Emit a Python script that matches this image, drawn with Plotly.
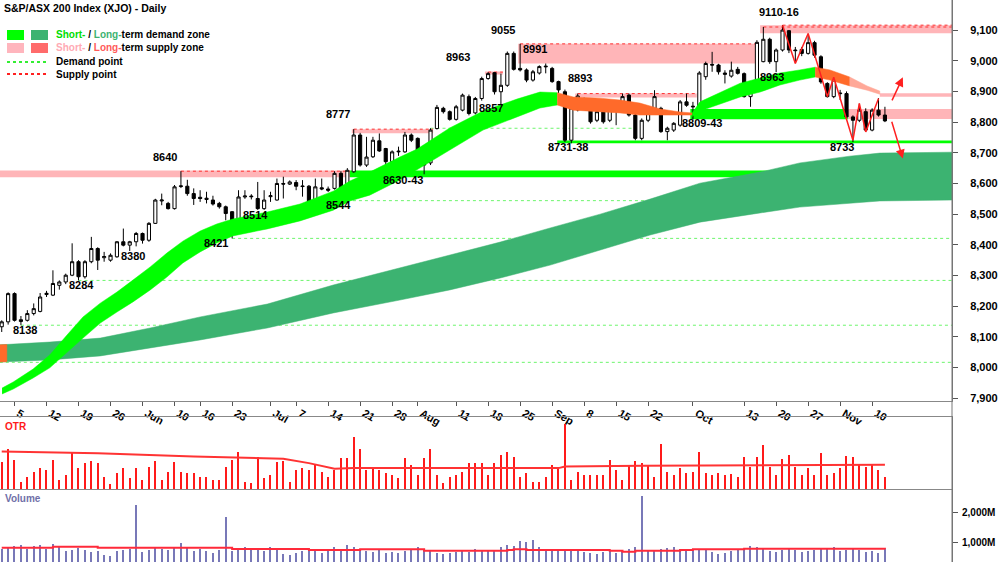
import plotly.graph_objects as go

# ---------------- data ----------------
# trading-day index 0 = 1 May 2025 ... 138 = 12 Nov 2025
opens = [8133, 8149, 8241, 8150, 8154, 8176, 8183, 8238, 8236, 8268,
         8279, 8301, 8345, 8296, 8345, 8388, 8358, 8350, 8361, 8410,
         8399, 8410, 8437, 8415, 8470, 8543, 8535, 8518, 8590, 8591,
         8567, 8555, 8552, 8546, 8535, 8524, 8508, 8476, 8556, 8559,
         8551, 8518, 8557, 8546, 8600, 8598, 8603, 8592, 8591, 8540,
         8586, 8582, 8584, 8633, 8565, 8638, 8758, 8660, 8687, 8739,
         8714, 8671, 8703, 8703, 8758, 8747, 8665, 8667, 8779, 8845,
         8834, 8809, 8839, 8883, 8830, 8877, 8942, 8961, 8899, 8920,
         9024, 8975, 8970, 8937, 8960, 8980, 8975, 8932, 8899, 8741,
         8840, 8872, 8850, 8806, 8834, 8806, 8861, 8855, 8888, 8823,
         8747, 8806, 8845, 8845, 8769, 8774, 8790, 8866, 8852, 8850,
         8948, 8988, 8986, 8960, 8950, 8972, 8958, 8883, 8904, 8997,
         9070, 8997, 9035, 9098, 9035, 9037, 9024, 9059, 9013, 8926,
         8883, 8895, 8893, 8817, 8806, 8834, 8774, 8839, 8823]
highs = [8154, 8245, 8245, 8168, 8187, 8209, 8243, 8250, 8317, 8284,
         8306, 8405, 8350, 8350, 8426, 8392, 8377, 8372, 8412, 8453,
         8413, 8442, 8440, 8474, 8550, 8567, 8540, 8595, 8640, 8612,
         8584, 8578, 8573, 8560, 8540, 8528, 8510, 8578, 8578, 8565,
         8605, 8578, 8573, 8616, 8622, 8610, 8611, 8611, 8595, 8616,
         8616, 8590, 8640, 8640, 8650, 8777, 8765, 8752, 8752, 8763,
         8716, 8708, 8720, 8768, 8763, 8750, 8668, 8780, 8856, 8850,
         8838, 8856, 8893, 8890, 8882, 8948, 8963, 8963, 8958, 9030,
         9030, 9055, 8975, 8970, 8985, 8991, 8980, 8935, 8906, 8850,
         8893, 8880, 8855, 8840, 8840, 8872, 8872, 8893, 8893, 8828,
         8812, 8850, 8904, 8850, 8785, 8800, 8872, 8893, 8866, 8966,
         8997, 9029, 8990, 8969, 8997, 8980, 8962, 8910, 9067, 9110,
         9075, 9040, 9116, 9100, 9045, 9045, 9088, 9065, 9018, 8930,
         8947, 8905, 8900, 8822, 8860, 8845, 8845, 8878, 8850]
lows = [8116, 8140, 8150, 8138, 8150, 8170, 8180, 8230, 8233, 8254,
        8272, 8298, 8284, 8290, 8340, 8318, 8345, 8345, 8358, 8395,
        8380, 8395, 8404, 8410, 8468, 8529, 8515, 8515, 8585, 8560,
        8530, 8540, 8535, 8528, 8518, 8480, 8421, 8470, 8550, 8548,
        8514, 8514, 8540, 8544, 8551, 8595, 8578, 8557, 8535, 8535,
        8578, 8572, 8580, 8544, 8560, 8635, 8655, 8654, 8683, 8703,
        8643, 8665, 8690, 8700, 8735, 8655, 8630, 8660, 8776, 8828,
        8805, 8805, 8835, 8822, 8825, 8870, 8938, 8890, 8857, 8915,
        8968, 8965, 8930, 8932, 8955, 8959, 8928, 8895, 8735, 8731,
        8835, 8845, 8795, 8800, 8795, 8800, 8790, 8850, 8818, 8741,
        8741, 8800, 8840, 8765, 8741, 8768, 8785, 8850, 8809, 8843,
        8938, 8964, 8955, 8926, 8945, 8955, 8880, 8850, 8900, 8995,
        8990, 8963, 9030, 9025, 8992, 9015, 9020, 9010, 8925, 8880,
        8878, 8872, 8810, 8735, 8800, 8768, 8770, 8818, 8800]
closes = [8149, 8241, 8154, 8156, 8176, 8192, 8230, 8242, 8274, 8279,
          8301, 8345, 8296, 8345, 8388, 8350, 8362, 8366, 8410, 8399,
          8410, 8437, 8415, 8470, 8546, 8546, 8518, 8589, 8592, 8567,
          8551, 8551, 8548, 8533, 8524, 8502, 8475, 8556, 8559, 8557,
          8518, 8546, 8560, 8600, 8598, 8605, 8591, 8590, 8540, 8589,
          8582, 8578, 8633, 8562, 8643, 8758, 8660, 8686, 8741, 8706,
          8671, 8703, 8705, 8758, 8741, 8663, 8660, 8774, 8848, 8834,
          8809, 8850, 8888, 8828, 8877, 8942, 8958, 8899, 8920, 9024,
          8972, 8970, 8937, 8964, 8981, 8982, 8932, 8905, 8741, 8846,
          8885, 8850, 8801, 8834, 8801, 8866, 8850, 8883, 8823, 8747,
          8806, 8845, 8883, 8769, 8780, 8796, 8866, 8855, 8850, 8960,
          8991, 8986, 8964, 8956, 8969, 8959, 8883, 8904, 9060, 9070,
          8997, 9035, 9100, 9035, 9033, 9024, 9059, 9018, 8931, 8883,
          8937, 8893, 8817, 8806, 8839, 8774, 8839, 8823, 8804]

# OTR (arbitrary units) and volume (millions)
otr = [82, 122, 87, 22, 37, 52, 62, 57, 87, 27, 42,
       112, 62, 77, 84, 77, 37, 14, 47, 62, 32,
       62, 27, 67, 84, 27, 50, 82, 50, 47, 49,
       37, 37, 27, 27, 67, 87, 110, 20, 17, 97,
       32, 42, 82, 84, 22, 57, 62, 57, 72, 52,
       37, 57, 92, 92, 157, 122, 57, 67, 57, 47,
       42, 32, 92, 72, 42, 92, 122, 42, 17, 37,
       42, 52, 77, 77, 77, 42, 77, 102, 110, 97,
       37, 47, 20, 20, 37, 72, 67, 197, 27, 52,
       42, 42, 42, 42, 87, 57, 27, 72, 84, 77,
       72, 37, 135, 52, 42, 62, 47, 52, 112, 47,
       42, 47, 42, 44, 37, 97, 67, 97, 134, 67,
       42, 90, 102, 67, 42, 62, 42, 109, 42, 47,
       62, 100, 97, 72, 67, 72, 57, 37]
otr_avg_idx = [0, 10, 15, 30, 44, 48, 52, 55, 85, 87, 88, 100, 138]
otr_avg = [112, 110, 107, 97, 90, 77, 60, 62, 60, 62, 67, 69, 72]

volume_m = [760, 820, 850, 900, 780, 870, 900, 760, 940, 820,
            700, 740, 800, 720, 650, 700, 580, 520, 690, 720,
            760, 2230, 680, 720, 800, 760, 740, 820, 960, 800,
            700, 760, 690, 640, 720, 1840, 700, 760, 820, 760,
            740, 700, 820, 780, 600, 560, 640, 700, 760, 720,
            640, 700, 820, 760, 900, 840, 780, 700, 660, 720,
            640, 680, 620, 700, 760, 820, 740, 700, 640, 600,
            620, 680, 720, 660, 760, 700, 740, 720, 840, 900,
            860, 1050, 1000, 1070, 820, 760, 720, 700, 780, 760,
            700, 680, 640, 600, 660, 720, 640, 700, 760, 820,
            2530, 700, 740, 780, 800, 820, 760, 720, 700, 760,
            740, 660, 600, 640, 700, 720, 760, 880, 820, 760,
            700, 680, 720, 760, 720, 680, 700, 740, 760, 780,
            820, 700, 740, 760, 720, 680, 700, 640, 760]
vol_avg_idx = [0, 8, 15, 35, 36, 47, 48, 55, 56, 66, 79, 80, 82, 95, 97, 99, 106, 108, 115, 116, 138]
vol_avg = [810, 843, 810, 810, 767, 767, 733, 733, 757, 710, 733, 757, 733, 710, 677, 710, 733, 757, 757, 777, 757]

tick_idx = [2, 7, 12, 17, 22, 27, 31, 36, 42, 46, 51, 56, 61, 65, 71, 76, 81, 86,
            91, 96, 101, 108, 116, 121, 126, 131, 136]
tick_text = ['5', '12', '19', '26', 'Jun', '10', '16', '23', 'Jul', '7', '14', '21', '28',
             'Aug', '11', '18', '25', 'Sep', '8', '15', '22', 'Oct', '13', '20', '27', 'Nov', '10']
price_ticks = [7900, 8000, 8100, 8200, 8300, 8400, 8500, 8600, 8700, 8800, 8900, 9000, 9100]

# short-term band (demand = green, supply = orange)
st_d1_idx = [0.05, 1.8, 4.9, 7.5, 10.2, 12.7, 15.4, 18.0, 20.5, 23.2, 25.8, 28.3, 31.0, 33.6,
             36.1, 41.5, 46.6, 51.8, 54.4, 57.5, 62.2, 64.9, 70.0, 75.2, 80.5, 84.1, 86.8]
st_d1_hi = [7933, 7953, 7995, 8041, 8106, 8165, 8210, 8246, 8285, 8328, 8373, 8412, 8445, 8468,
            8484, 8507, 8533, 8575, 8608, 8637, 8686, 8712, 8781, 8836, 8875, 8898, 8896]
st_d1_lo = [7914, 7930, 7966, 7999, 8048, 8096, 8145, 8181, 8214, 8253, 8295, 8341, 8377, 8406,
            8429, 8452, 8478, 8513, 8543, 8562, 8611, 8644, 8709, 8774, 8817, 8846, 8856]
st_s1_idx = [86.8, 89.3, 93.5, 96.6, 99.7, 102.9, 106.0, 107.9]
st_s1_hi = [8896, 8882, 8878, 8872, 8862, 8843, 8833, 8830]
st_s1_lo = [8856, 8839, 8833, 8830, 8823, 8823, 8823, 8823]
st_d2_idx = [107.9, 109.1, 115.4, 118.5, 121.6, 124.7, 127.1]
st_d2_hi = [8830, 8866, 8927, 8944, 8960, 8970, 8979]
st_d2_lo = [8818, 8836, 8882, 8898, 8921, 8937, 8947]
st_s2_idx = [127.1, 129.4, 132.5]
st_s2_hi = [8979, 8970, 8947]
st_s2_lo = [8947, 8937, 8918]
st_s3_idx = [132.5, 135.2, 137.2]
st_s3_hi = [8947, 8918, 8901]
st_s3_lo = [8918, 8904, 8891]

# long-term band
lt_idx = [-0.3, 7.5, 15.4, 23.2, 31.0, 41.5, 51.8, 62.2, 70.0, 77.9, 85.7, 93.5, 101.3,
          109.1, 118.5, 124.7, 132.5, 137.2, 148.5]
lt_hi = [8074, 8083, 8096, 8129, 8165, 8207, 8269, 8325, 8367, 8409, 8455, 8500, 8549,
         8601, 8637, 8667, 8689, 8699, 8702]
lt_lo = [8018, 8025, 8038, 8064, 8090, 8129, 8178, 8220, 8253, 8292, 8334, 8383, 8432,
         8474, 8504, 8523, 8536, 8543, 8546]
lt_s_idx = [-0.3, 0.8]
lt_s_hi = [8074, 8075]
lt_s_lo = [8018, 8019]

# zones: (start idx, end idx, low, high)
supply_zones = [(-0.3, 54.4, 8620, 8642), (54.7, 67.4, 8764, 8777), (75.5, 78.3, 8955, 8965),
                (80.7, 118.2, 8991, 9055), (89.6, 108.6, 8880, 8893), (118.5, 148.5, 9090, 9116),
                (137.2, 148.5, 8883, 8894), (132.2, 148.5, 8810, 8843)]
demand_zones = [(54.4, 148.5, 8620, 8642), (86.8, 148.5, 8731, 8740), (107.6, 132.2, 8809, 8843)]
demand_points = [(-0.3, 148.5, 8017), (3, 148.5, 8138), (12, 148.5, 8284), (36, 148.5, 8421),
                 (53, 105, 8544), (67, 99, 8780), (78, 88, 8857)]
supply_points = [(28, 54.4, 8640), (55, 67.4, 8777), (76, 78.3, 8963), (81, 118.2, 9055),
                 (90, 108.6, 8893), (119, 148.5, 9110), (122, 148.5, 9116)]

level_labels = [("8138", 3.6, 8123), ("8284", 12.5, 8269), ("8380", 20.5, 8364), ("8421", 33.5, 8406),
                ("8514", 39.6, 8497), ("8544", 52.6, 8530), ("8640", 25.5, 8686), ("8777", 52.6, 8826),
                ("8630-43", 62.7, 8611), ("8963", 71.3, 9012), ("8857", 76.5, 8846), ("9055", 78.3, 9100),
                ("8991", 83.3, 9038), ("8893", 90.4, 8944), ("8731-38", 88.5, 8719),
                ("8809-43", 109.4, 8797), ("8963", 120.4, 8947), ("9110-16", 121.5, 9159),
                ("8733", 131.3, 8719)]

zz_idx = [122, 124, 126, 129, 130, 133, 134, 135, 137]
zz_px = [9116, 8991, 9089, 8883, 8946, 8741, 8861, 8768, 8877]
arrows = [((139.0, 8866), (140.8, 8946)), ((139.0, 8806), (140.8, 8681))]

# ---------------- figure ----------------
FONT = "Liberation Sans, Arial, Helvetica, sans-serif"
W, H = 1000, 562
PLOT_W = 952
X_MIN, X_MAX = -0.27, 148.48
idx = list(range(len(opens)))

GREEN = '#00ff00'
DKGREEN = '#3cb371'
ORANGE = '#ff6a2a'
PINK = '#ffb5b8'
RED = '#ff2020'


def px(x):
    return x / PLOT_W


def py(y):
    return 1 - y / H


fig = go.Figure()


def band(xs, hi, lo, color):
    fig.add_trace(go.Scatter(x=list(xs) + list(xs)[::-1], y=list(hi) + list(lo)[::-1],
                             fill='toself', fillcolor=color, mode='lines',
                             line=dict(width=0.5, color=color), hoverinfo='skip',
                             xaxis='x', yaxis='y'))


band(lt_idx, lt_hi, lt_lo, DKGREEN)
band(lt_s_idx, lt_s_hi, lt_s_lo, ORANGE)
band(st_d1_idx, st_d1_hi, st_d1_lo, GREEN)
band(st_s1_idx, st_s1_hi, st_s1_lo, ORANGE)
band(st_d2_idx, st_d2_hi, st_d2_lo, GREEN)
band(st_s2_idx, st_s2_hi, st_s2_lo, ORANGE)
band(st_s3_idx, st_s3_hi, st_s3_lo, '#ffa898')

fig.add_trace(go.Candlestick(
    x=idx, open=opens, high=highs, low=lows, close=closes,
    increasing=dict(line=dict(color='black', width=1), fillcolor='white'),
    decreasing=dict(line=dict(color='black', width=1), fillcolor='black'),
    whiskerwidth=0, hoverinfo='skip', xaxis='x', yaxis='y'))

fig.add_trace(go.Scatter(x=zz_idx, y=zz_px, mode='lines', line=dict(color=RED, width=1.5),
                         hoverinfo='skip', xaxis='x', yaxis='y'))

# OTR panel
fig.add_trace(go.Bar(x=idx, y=otr, width=0.2, marker=dict(color='#ff1a1a', line=dict(width=0)),
                     hoverinfo='skip', xaxis='x2', yaxis='y2'))
fig.add_trace(go.Scatter(x=otr_avg_idx, y=otr_avg, mode='lines', line=dict(color='#ff3333', width=2),
                         hoverinfo='skip', xaxis='x2', yaxis='y2'))
# Volume panel
fig.add_trace(go.Bar(x=idx, y=volume_m, width=0.2, marker=dict(color='#7878b8', line=dict(width=0)),
                     hoverinfo='skip', xaxis='x3', yaxis='y3'))
fig.add_trace(go.Scatter(x=vol_avg_idx, y=vol_avg, mode='lines', line=dict(color='#ff2a3a', width=2, shape='hv'),
                         hoverinfo='skip', xaxis='x3', yaxis='y3'))

shapes = []
for x0, x1, lo, hi in supply_zones:
    shapes.append(dict(type='rect', xref='x', yref='y', x0=x0, x1=x1, y0=lo, y1=hi,
                       fillcolor=PINK, line=dict(width=0), layer='below'))
for x0, x1, lo, hi in demand_zones:
    shapes.append(dict(type='rect', xref='x', yref='y', x0=x0, x1=x1, y0=lo, y1=hi,
                       fillcolor=GREEN, line=dict(width=0), layer='below'))
for x0, x1, p in demand_points:
    shapes.append(dict(type='line', xref='x', yref='y', x0=x0, x1=x1, y0=p, y1=p,
                       line=dict(color='#6cf56c', width=1, dash='dot'), layer='below'))
for x0, x1, p in supply_points:
    shapes.append(dict(type='line', xref='x', yref='y', x0=x0, x1=x1, y0=p, y1=p,
                       line=dict(color='#ff3030', width=1, dash='dot'), layer='below'))
# full-height right border
shapes.append(dict(type='line', xref='paper', yref='paper', x0=1, x1=1, y0=0, y1=1,
                   line=dict(color='#777777', width=1)))
# legend swatches
shapes += [
    dict(type='rect', xref='paper', yref='paper', x0=px(7), x1=px(24), y0=py(40), y1=py(30),
         fillcolor=GREEN, line=dict(width=0)),
    dict(type='rect', xref='paper', yref='paper', x0=px(31), x1=px(48), y0=py(40), y1=py(30),
         fillcolor=DKGREEN, line=dict(width=0)),
    dict(type='rect', xref='paper', yref='paper', x0=px(7), x1=px(24), y0=py(53), y1=py(43),
         fillcolor='#ffb5bd', line=dict(width=0)),
    dict(type='rect', xref='paper', yref='paper', x0=px(31), x1=px(48), y0=py(53), y1=py(43),
         fillcolor='#ff6b6b', line=dict(width=0)),
    dict(type='line', xref='paper', yref='paper', x0=px(7), x1=px(47), y0=py(62), y1=py(62),
         line=dict(color='#33ee33', width=2, dash='dot')),
    dict(type='line', xref='paper', yref='paper', x0=px(7), x1=px(47), y0=py(74), y1=py(74),
         line=dict(color='#ff2020', width=2, dash='dot')),
]

ann = []
ann.append(dict(xref='paper', yref='paper', x=px(2), y=py(8), xanchor='left', yanchor='middle',
                text='<b>S&amp;P/ASX 200 Index (XJO) - Daily</b>', showarrow=False,
                font=dict(family=FONT, size=10.5, color='black')))
leg_rows = [
    (35, "<b><span style='color:#00dd00'>Short-</span> / <span style='color:#3cb371'>Long-</span>term demand zone</b>"),
    (48, "<b><span style='color:#ffaab4'>Short-</span> / <span style='color:#ff5a5a'>Long-</span>term supply zone</b>"),
    (62, "<b>Demand point</b>"),
    (74, "<b>Supply point</b>"),
]
for yy, t in leg_rows:
    ann.append(dict(xref='paper', yref='paper', x=px(54), y=py(yy), xanchor='left', yanchor='middle',
                    text=t, showarrow=False, font=dict(family=FONT, size=10, color='black')))
for t, xi, p in level_labels:
    ann.append(dict(xref='x', yref='y', x=xi, y=p, text='<b>' + t + '</b>', showarrow=False,
                    xanchor='center', yanchor='middle', font=dict(family=FONT, size=11, color='black')))
for (x0, y0), (x1, y1) in arrows:
    ann.append(dict(xref='x', yref='y', axref='x', ayref='y', x=x1, y=y1, ax=x0, ay=y0, text='',
                    showarrow=True, arrowhead=2, arrowsize=1.2, arrowwidth=1.5, arrowcolor=RED))
ann.append(dict(xref='paper', yref='paper', x=px(3), y=py(426), xanchor='left', yanchor='middle',
                text='<b>OTR</b>', showarrow=False, font=dict(family=FONT, size=10, color='#ff1a1a')))
ann.append(dict(xref='paper', yref='paper', x=px(3), y=py(498), xanchor='left', yanchor='middle',
                text='<b>Volume</b>', showarrow=False, font=dict(family=FONT, size=10, color='#7070a8')))

tickfont = dict(family=FONT, size=11, color='black', weight='bold')
fig.update_layout(
    width=W, height=H, margin=dict(l=0, r=W - PLOT_W, t=0, b=0, autoexpand=False),
    plot_bgcolor='white', paper_bgcolor='white', showlegend=False, bargap=0,
    shapes=shapes, annotations=ann,
    xaxis=dict(domain=[0, 1], range=[X_MIN, X_MAX], anchor='y', tickvals=tick_idx, ticktext=tick_text,
               ticks='outside', ticklen=4, tickcolor='#555555', ticklabelposition='outside right',
               ticklabelshift=3, ticklabelstandoff=1, automargin=False,
               tickfont=tickfont, showline=True, linecolor='#888888', linewidth=1, showgrid=False,
               zeroline=False, rangeslider=dict(visible=False)),
    yaxis=dict(domain=[1 - 401 / H, 1], range=[7891, 9198], side='right', anchor='x',
               tickvals=price_ticks, tickformat=',', ticks='outside', ticklen=5, tickcolor='#555555',
               tickfont=tickfont, ticklabelstandoff=10, automargin=False, showgrid=False, zeroline=False,
               showline=True, linecolor='#777777'),
    xaxis2=dict(domain=[0, 1], range=[X_MIN, X_MAX], anchor='y2', showticklabels=False, ticks='',
                automargin=False,
                showline=True, mirror=True, linecolor='#888888', linewidth=1, showgrid=False, zeroline=False),
    yaxis2=dict(domain=[1 - 489 / H, 1 - 416.7 / H], range=[-1, 217], side='right', anchor='x2',
                showticklabels=False, ticks='', showgrid=False, zeroline=False, showline=True,
                automargin=False, linecolor='#777777'),
    xaxis3=dict(domain=[0, 1], range=[X_MIN, X_MAX], anchor='y3', showticklabels=False, ticks='',
                automargin=False, showline=False, showgrid=False, zeroline=False),
    yaxis3=dict(domain=[0, 1 - 489 / H], range=[333, 2767], side='right', anchor='x3',
                tickvals=[1000, 2000], ticktext=['1,000M', '2,000M'], ticks='outside', ticklen=5,
                tickcolor='#555555', tickfont=dict(family=FONT, size=10, color='black', weight='bold'),
                ticklabelstandoff=2, automargin=False, showgrid=False, zeroline=False, showline=True,
                linecolor='#777777'),
)

fig.write_html("out.html")
